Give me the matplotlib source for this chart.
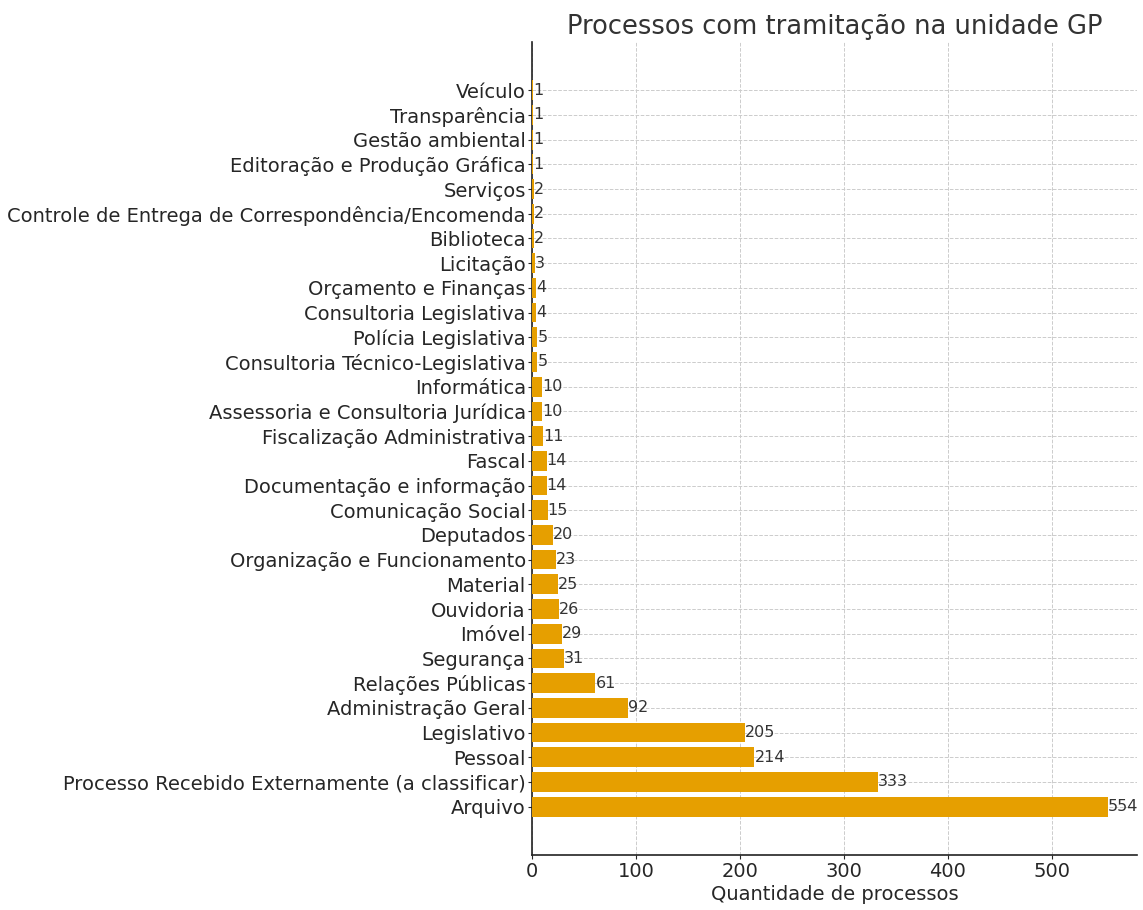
import matplotlib
matplotlib.use("Agg")
import matplotlib.pyplot as plt

categories = [
    "Arquivo",
    "Processo Recebido Externamente (a classificar)",
    "Pessoal",
    "Legislativo",
    "Administração Geral",
    "Relações Públicas",
    "Segurança",
    "Imóvel",
    "Ouvidoria",
    "Material",
    "Organização e Funcionamento",
    "Deputados",
    "Comunicação Social",
    "Documentação e informação",
    "Fascal",
    "Fiscalização Administrativa",
    "Assessoria e Consultoria Jurídica",
    "Informática",
    "Consultoria Técnico-Legislativa",
    "Polícia Legislativa",
    "Consultoria Legislativa",
    "Orçamento e Finanças",
    "Licitação",
    "Biblioteca",
    "Controle de Entrega de Correspondência/Encomenda",
    "Serviços",
    "Editoração e Produção Gráfica",
    "Gestão ambiental",
    "Transparência",
    "Veículo",
]
values = [554, 333, 214, 205, 92, 61, 31, 29, 26, 25, 23, 20, 15, 14, 14,
          11, 10, 10, 5, 5, 4, 4, 3, 2, 2, 2, 1, 1, 1, 1]
x_ticks = [0, 100, 200, 300, 400, 500]

text_color = "#262626"
fig = plt.figure(figsize=(11.43, 9.10), dpi=100)
ax = fig.add_axes([0.4655, 0.0604, 0.529, 0.8936])

y = list(range(len(categories)))
bars = ax.barh(y, values, height=0.8, color="#E69F00", zorder=3)
for b, v in zip(bars, values):
    ax.text(b.get_width(), b.get_y() + b.get_height() / 2, str(v),
            va="center", ha="left", fontsize=11.5, color="#333333", zorder=4)

ax.set_yticks(y)
ax.set_yticklabels(categories, fontsize=14, color=text_color)
ax.set_xticks(x_ticks)
ax.tick_params(axis="x", labelsize=14, colors=text_color, length=3, pad=2)
ax.tick_params(axis="y", colors=text_color, length=3, pad=1.5)
ax.set_ylim(-1.96, len(categories) - 1 + 1.96)
ax.set_xlim(0, 582)
ax.set_xlabel("Quantidade de processos", fontsize=14, color=text_color,
              labelpad=3)
ax.set_title("Processos com tramitação na unidade GP", fontsize=18.5,
             color="#333333", pad=6)
ax.grid(True, linestyle="--", color="#cccccc", linewidth=0.7, zorder=0)
ax.set_axisbelow(True)
for s in ["top", "right"]:
    ax.spines[s].set_visible(False)
for s in ["left", "bottom"]:
    ax.spines[s].set_color("#222222")
    ax.spines[s].set_linewidth(1.2)

fig.savefig("out.png", dpi=100)
